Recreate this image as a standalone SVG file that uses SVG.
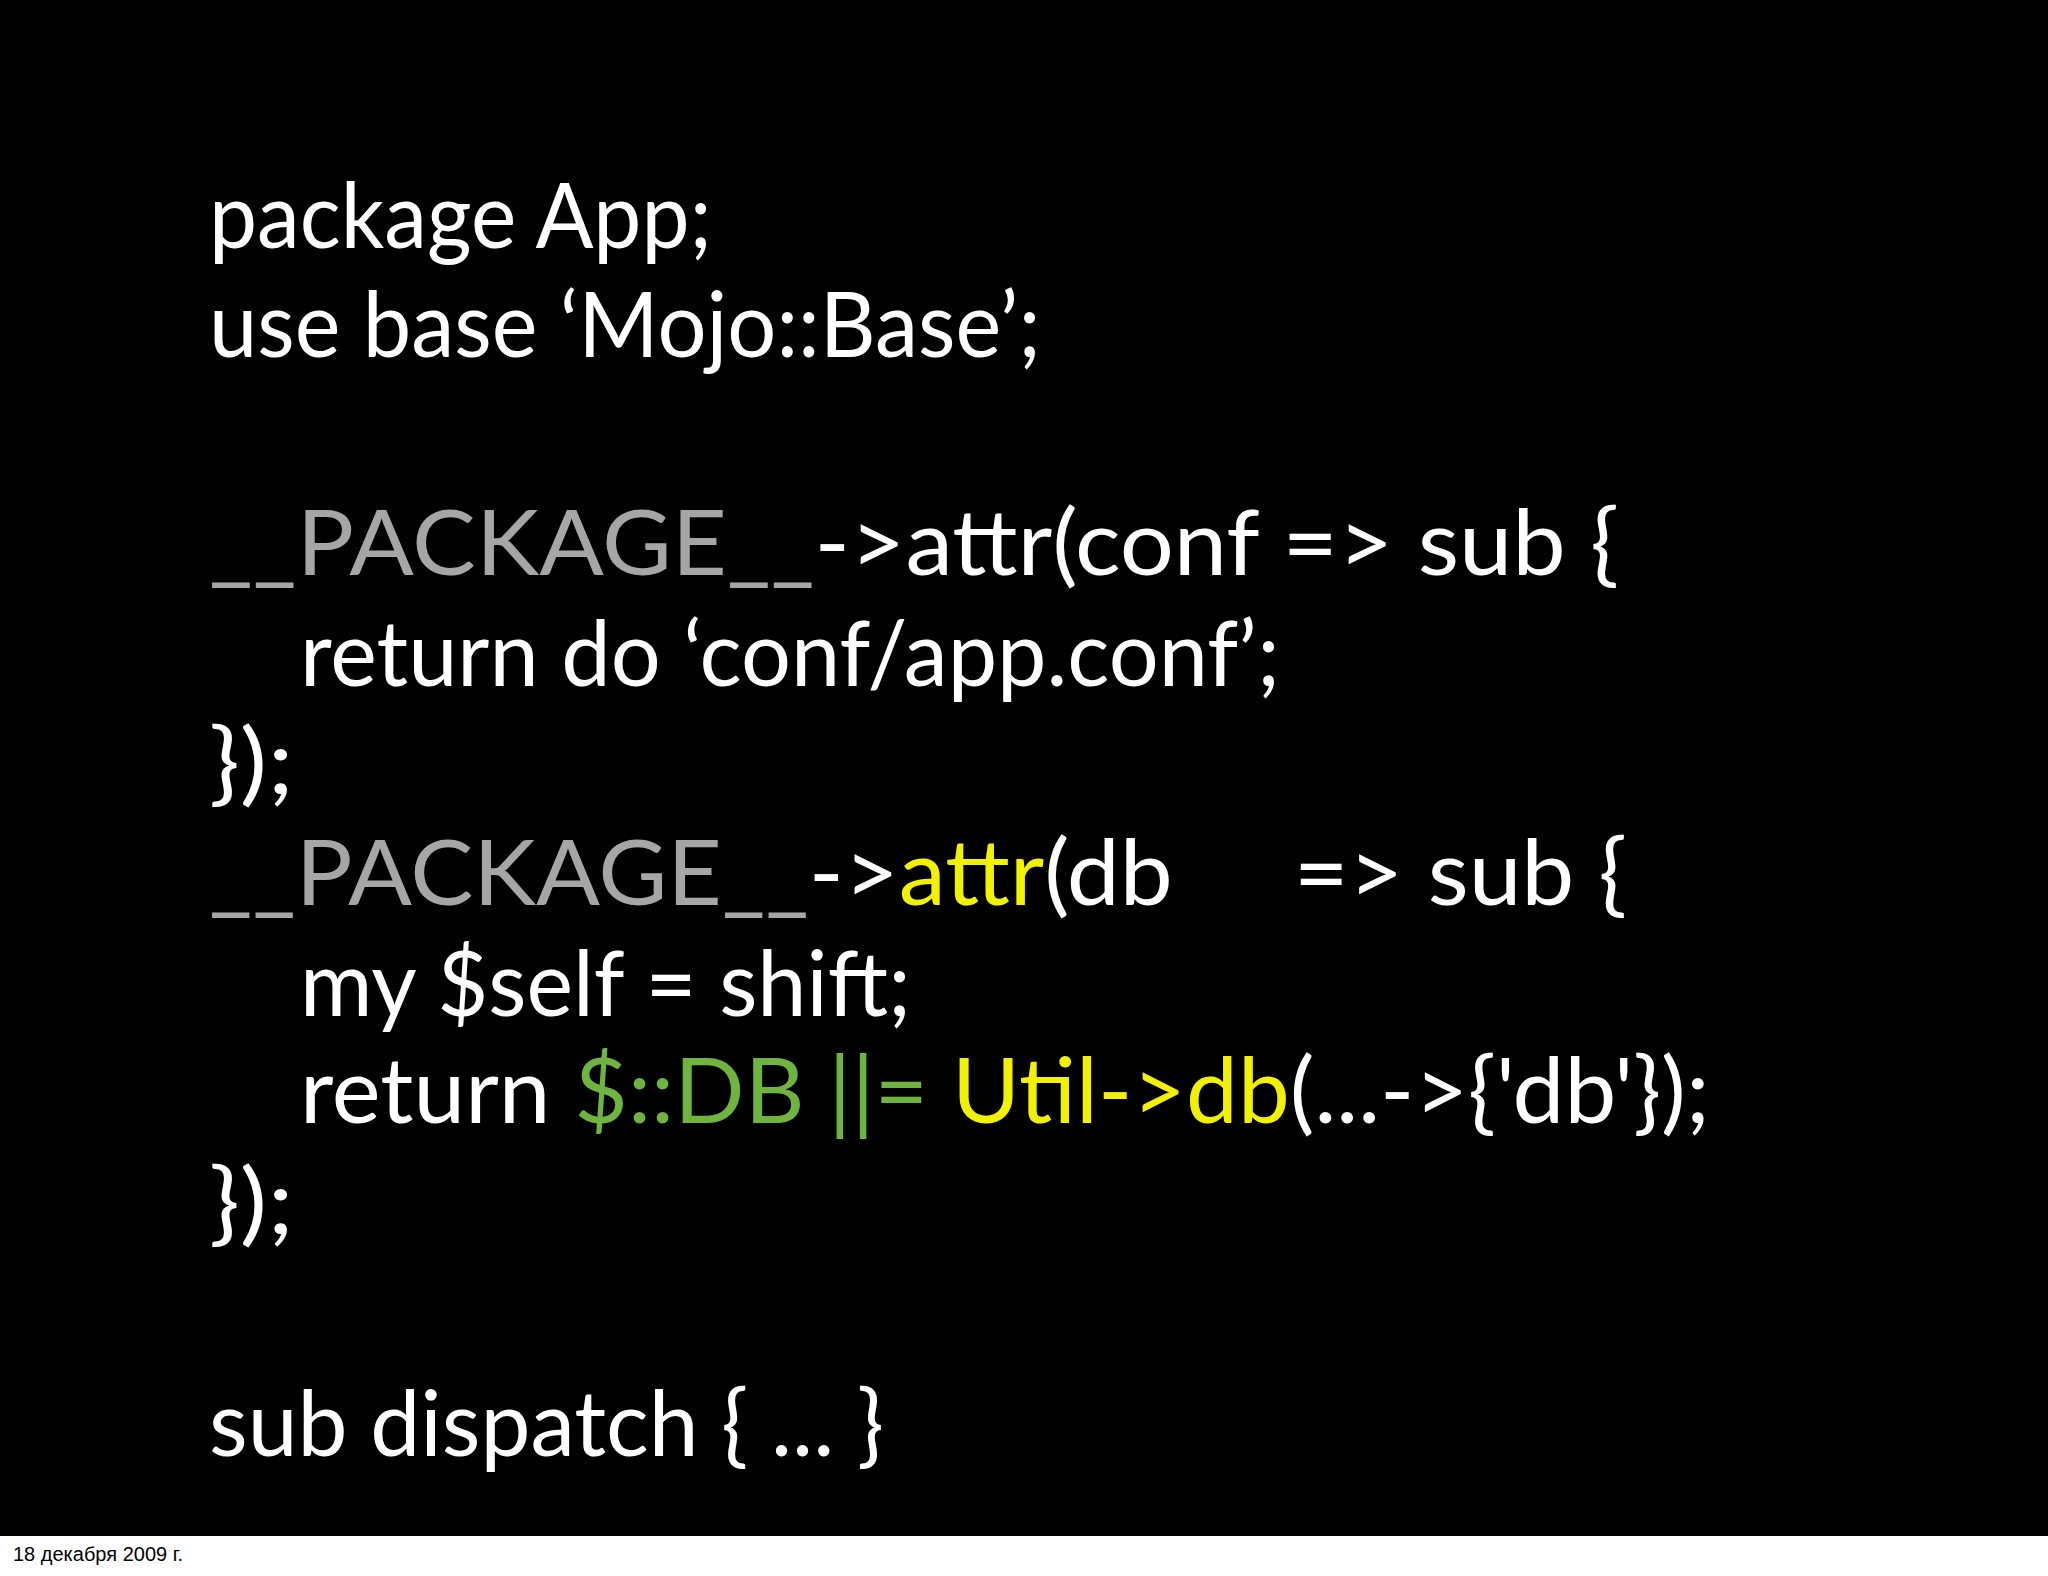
<svg xmlns="http://www.w3.org/2000/svg" width="2048" height="1576" viewBox="0 0 2048 1576">
<style>
.c{font-family:Lato,"Open Sans","Liberation Sans",sans-serif;font-size:92px;fill:#ffffff;white-space:pre}
.g{fill:#a6a6a6}.y{fill:#f2f200}.gr{fill:#6fb43f}
.f{font-family:"Liberation Sans",Arial,sans-serif;font-size:20px;fill:#000}
</style>
<rect x="0" y="0" width="2048" height="1576" fill="#ffffff"/>
<rect x="0" y="0" width="2048" height="1536" fill="#000000"/>
<g id="code">
<text class="c" x="209" y="248" textLength="503" lengthAdjust="spacingAndGlyphs">package App;</text>
<text class="c" x="209" y="357" textLength="832" lengthAdjust="spacingAndGlyphs">use base ‘Mojo::Base’;</text>
<text class="c" x="209" y="575" textLength="1410" lengthAdjust="spacingAndGlyphs" xml:space="preserve"><tspan class="g">__PACKAGE__</tspan>-&gt;attr(conf =&gt; sub {</text>
<text class="c" x="300" y="686" textLength="980" lengthAdjust="spacingAndGlyphs">return do ‘conf/app.conf’;</text>
<text class="c" x="209" y="794" textLength="85" lengthAdjust="spacingAndGlyphs">});</text>
<text class="c" x="209" y="905" textLength="1418" lengthAdjust="spacingAndGlyphs" xml:space="preserve"><tspan class="g">__PACKAGE__</tspan>-&gt;<tspan class="y">attr</tspan>(db     =&gt; sub {</text>
<text class="c" x="300" y="1016" textLength="611" lengthAdjust="spacingAndGlyphs">my $self = shift;</text>
<text class="c" x="300" y="1123" textLength="1410" lengthAdjust="spacingAndGlyphs" xml:space="preserve">return <tspan class="gr">$::DB ||=</tspan> <tspan class="y">Util-&gt;db</tspan>(...-&gt;{'db'});</text>
<text class="c" x="209" y="1234" textLength="85" lengthAdjust="spacingAndGlyphs">});</text>
<text class="c" x="209" y="1456" textLength="675" lengthAdjust="spacingAndGlyphs">sub dispatch { ... }</text>
</g>
<text class="f" x="13" y="1561">18 декабря 2009 г.</text>
</svg>
